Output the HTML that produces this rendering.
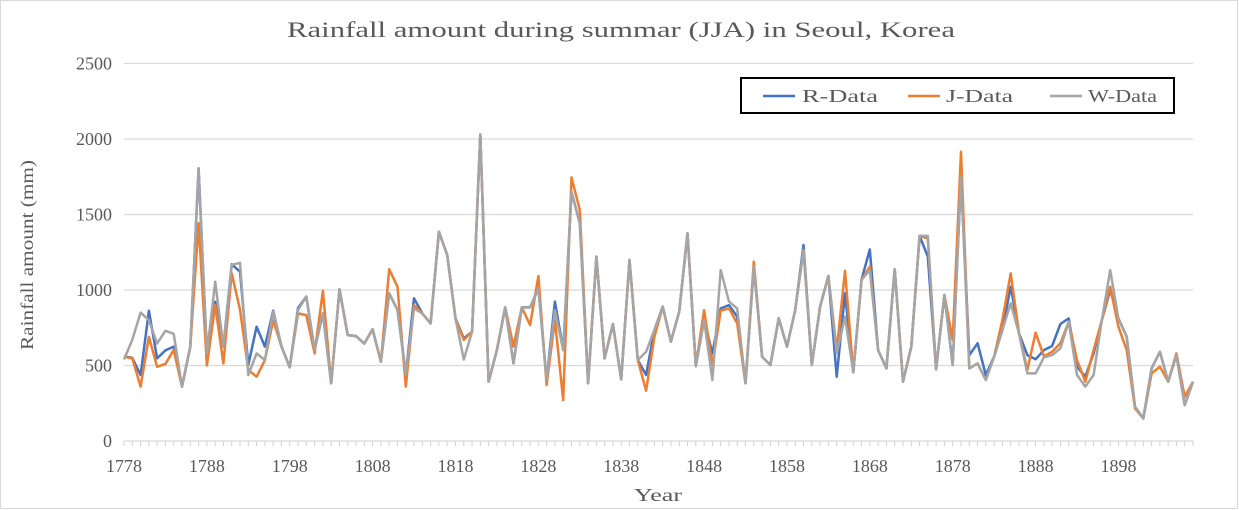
<!DOCTYPE html>
<html><head><meta charset="utf-8">
<style>
html,body{margin:0;padding:0;background:#fff;}
#wrap{position:relative;width:1239px;height:510px;overflow:hidden;}
svg{position:absolute;left:0;top:0;}
text{font-family:"Liberation Serif",serif;fill:#595959;}
</style></head>
<body>
<div id="wrap">
<svg id="chart" width="1239" height="510" viewBox="0 0 1239 510">
<rect x="0.5" y="0.5" width="1237" height="508" fill="#fff" stroke="#d9d9d9"/>
<text x="287" y="37" font-size="22" textLength="668" lengthAdjust="spacingAndGlyphs">Rainfall amount during summar (JJA) in Seoul, Korea</text>
<text transform="translate(33,350) rotate(-90)" font-size="18" textLength="190" lengthAdjust="spacingAndGlyphs">Rainfall amount (mm)</text>
<text x="634" y="501" font-size="18" textLength="48" lengthAdjust="spacingAndGlyphs">Year</text>
<g id="grid"></g><g id="series"></g><g id="axes"></g>
<g>
<rect x="741" y="78" width="433" height="35" fill="#fff" stroke="#000" stroke-width="2"/>
<line x1="763" y1="96" x2="795" y2="96" stroke="#4472C4" stroke-width="2.5"/>
<text x="802" y="102" font-size="18" textLength="76" lengthAdjust="spacingAndGlyphs">R-Data</text>
<line x1="908" y1="96" x2="940" y2="96" stroke="#ED7D31" stroke-width="2.5"/>
<text x="946" y="102" font-size="18" textLength="67" lengthAdjust="spacingAndGlyphs">J-Data</text>
<line x1="1050" y1="96" x2="1082" y2="96" stroke="#A5A5A5" stroke-width="2.5"/>
<text x="1088" y="102" font-size="18" textLength="69" lengthAdjust="spacingAndGlyphs">W-Data</text>
</g>
</svg>
</div>
<script>
const startYear = 1778;
const yTicks = [0, 500, 1000, 1500, 2000, 2500];
const xTickLabels = ["1778","1788","1798","1808","1818","1828","1838","1848","1858","1868","1878","1888","1898"];
const wData = [540,670,850,800,645,730,710,360,625,1806,
580,1055,625,1165,1180,437,580,536,856,625,
488,867,956,603,845,382,1004,702,695,645,
740,525,978,867,443,878,845,779,1386,1232,
812,540,724,2030,393,602,885,514,885,885,
1011,404,867,602,1651,1442,382,1221,547,775,
408,1199,536,591,735,890,658,856,1375,496,
801,404,1132,923,878,382,1155,558,503,812,
625,867,1265,503,890,1093,580,823,454,1066,
1132,602,481,1137,393,625,1358,1358,474,967,
503,1751,481,514,404,558,735,912,713,448,
448,554,569,613,790,437,360,437,801,1132,
812,691,227,150,481,591,393,569,238,393];
const rData = [560,550,437,863,547,600,625,360,625,1806,
580,922,625,1170,1121,503,757,625,863,625,
488,880,956,603,845,382,1004,702,695,645,
740,525,978,867,443,945,845,779,1386,1232,
812,680,724,2030,393,602,885,514,885,885,
1011,404,923,602,1651,1442,382,1221,547,775,
408,1199,536,437,735,890,658,856,1375,496,
801,580,878,900,823,382,1155,558,503,812,
625,867,1298,503,890,1093,426,978,454,1066,
1269,602,481,1137,393,625,1358,1221,474,967,
503,1751,569,647,437,558,735,1022,713,569,
541,602,629,775,812,492,426,580,801,1000,
812,691,227,150,481,591,393,569,238,393];
const jData = [558,547,360,690,492,510,603,360,625,1442,
500,900,514,1110,870,470,426,536,800,625,
488,845,834,580,995,382,1004,702,695,645,
740,525,1137,1022,360,900,845,779,1386,1232,
812,670,724,2030,393,602,885,625,885,768,
1093,371,801,271,1746,1530,382,1221,547,775,
408,1199,536,333,690,890,658,856,1375,496,
867,503,863,878,779,382,1188,558,503,812,
625,867,1265,503,890,1093,600,1128,454,1066,
1155,602,481,1137,393,625,1358,1342,474,967,
669,1916,481,514,404,558,801,1110,713,470,
717,560,591,647,790,536,393,602,801,1022,
757,602,216,150,448,492,393,580,293,393];

const NS = "http://www.w3.org/2000/svg";
const x0 = 124, dx = 8.287, y0 = 441, yScale = 0.151;
function xPos(i){ return x0 + i*dx; }
function yPos(v){ return y0 - v*yScale; }
const grid = document.getElementById('grid');
const axes = document.getElementById('axes');
const series = document.getElementById('series');

yTicks.forEach(function(t){
  if (t > 0) {
    const l = document.createElementNS(NS,'line');
    l.setAttribute('x1', x0); l.setAttribute('x2', xPos(129));
    l.setAttribute('y1', yPos(t)); l.setAttribute('y2', yPos(t));
    l.setAttribute('stroke', '#d9d9d9'); l.setAttribute('stroke-width', '1.3');
    
    
    grid.appendChild(l);
  }
  const tx = document.createElementNS(NS,'text');
  tx.setAttribute('x', 112); tx.setAttribute('y', yPos(t)+6);
  tx.setAttribute('text-anchor', 'end'); tx.setAttribute('font-size', '18');
  tx.textContent = t;
  
  
  axes.appendChild(tx);
});

const ax = document.createElementNS(NS,'line');
ax.setAttribute('x1', x0); ax.setAttribute('x2', xPos(129));
ax.setAttribute('y1', y0); ax.setAttribute('y2', y0);
ax.setAttribute('stroke', '#d9d9d9'); ax.setAttribute('stroke-width', '1.3');


axes.appendChild(ax);
for (let i = 0; i < wData.length; i++) {
  const tk = document.createElementNS(NS,'line');
  tk.setAttribute('x1', xPos(i)); tk.setAttribute('x2', xPos(i));
  tk.setAttribute('y1', y0); tk.setAttribute('y2', y0+5);
  tk.setAttribute('stroke', '#d0d0d0'); tk.setAttribute('stroke-width', '1');
  
  
  axes.appendChild(tk);
}
xTickLabels.forEach(function(lab){
  const i = parseInt(lab,10) - startYear;
  const tx = document.createElementNS(NS,'text');
  tx.setAttribute('x', xPos(i)); tx.setAttribute('y', 472);
  tx.setAttribute('text-anchor', 'middle'); tx.setAttribute('font-size', '18');
  tx.textContent = lab;
  
  
  axes.appendChild(tx);
});

function drawLine(data, color, name){
  const p = document.createElementNS(NS,'polyline');
  p.setAttribute('points', data.map(function(v,i){ return xPos(i).toFixed(1)+','+yPos(v).toFixed(1); }).join(' '));
  p.setAttribute('fill', 'none'); p.setAttribute('stroke', color);
  p.setAttribute('stroke-width', '2.5'); p.setAttribute('stroke-linejoin', 'round');
  
  
  series.appendChild(p);
}
drawLine(rData, '#4472C4', 'r-data-line');
drawLine(jData, '#ED7D31', 'j-data-line');
drawLine(wData, '#A5A5A5', 'w-data-line');
</script>
</body></html>
